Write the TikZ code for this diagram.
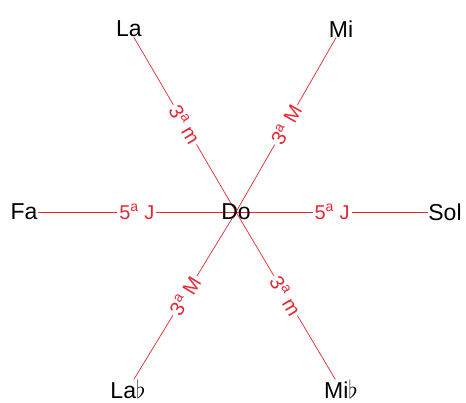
\documentclass[tikz,border=0pt]{standalone}
\usepackage{fontspec}
\setmainfont{Liberation Sans}
\usepackage{tikz}
\usetikzlibrary{positioning, backgrounds}
\definecolor{intred}{RGB}{226,40,52}

\begin{document}
\begin{tikzpicture}[x=1pt, y=-1pt,
    note/.style={inner sep=0pt, font=\fontsize{23}{27}\selectfont},
    link/.style={draw=intred, line width=0.7pt},
    interval/.style={sloped, fill=white, inner sep=2pt, text=intred, font=\fontsize{20}{23}\selectfont}]
    \useasboundingbox (0,0) rectangle (466,403);
    \node (Do) [note] at (236,212) {Do};
    \node (Fa) [note] at (24,212) {Fa};
    \node (Sol) [note] at (445,212) {Sol};
    \node (La) [note] at (129,29) {La};
    \node (Mi) [note] at (341,29) {Mi};
    \node (Lab) [note] at (128,389) {La$\flat$};
    \node (Mib) [note] at (341,389) {Mi$\flat$};

    \begin{scope}[on background layer]
    \draw[link] (Do.center) -- node[interval] {5\textsuperscript{a} J} (Fa);
    \draw[link] (Do.center) -- node[interval] {5\textsuperscript{a} J} (Sol);
    \draw[link] (Do.center) -- node[interval] {3\textsuperscript{a} m} (La);
    \draw[link] (Do.center) -- node[interval] {3\textsuperscript{a} M} (Mi);
    \draw[link] (Do.center) -- node[interval] {3\textsuperscript{a} M} (Lab);
    \draw[link] (Do.center) -- node[interval] {3\textsuperscript{a} m} (Mib);
    \end{scope}
\end{tikzpicture}
\end{document}
